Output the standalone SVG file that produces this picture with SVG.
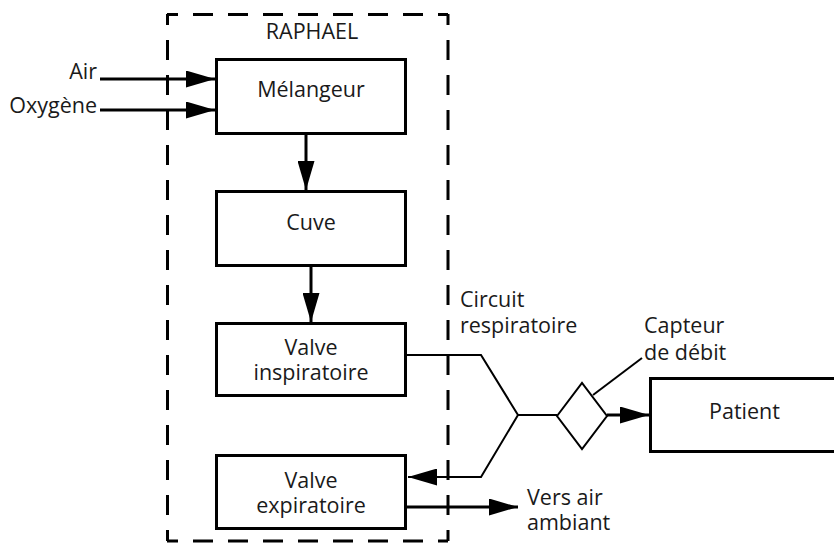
<svg xmlns="http://www.w3.org/2000/svg" width="834" height="544" viewBox="0 0 834 544">
  <style>
    .box { fill: #ffffff; stroke: #000000; stroke-width: 3; }
    .lbl { font-family: "Open Sans", "Liberation Sans", sans-serif; font-size: 21.5px; fill: #1a1a1a; }
    .mid { text-anchor: middle; }
    .end { text-anchor: end; }
    .arrow { fill: none; stroke: #000000; stroke-width: 3; }
    .thin { fill: none; stroke: #000000; stroke-width: 2; stroke-linejoin: miter; }
    .dash { fill: none; stroke: #000000; stroke-width: 3; stroke-dasharray: 20 15; stroke-dashoffset: 9; }
  </style>
  <defs>
    <marker id="ah" markerUnits="userSpaceOnUse" markerWidth="30" markerHeight="17" refX="29" refY="8.5" orient="auto">
      <path d="M0,0 L29,8.5 L0,17 Z" fill="#000000"/>
    </marker>
  </defs>
  <rect width="834" height="544" fill="#ffffff"/>

  <g id="raphael">
    <line class="dash" x1="167" y1="14.5" x2="448" y2="14.5"/>
    <line class="dash" x1="167.5" y1="14" x2="167.5" y2="541"/>
    <line class="dash" x1="448" y1="14" x2="448" y2="541"/>
    <line class="dash" x1="167" y1="541" x2="448" y2="541"/>
    <text class="lbl mid" x="312" y="39">RAPHAEL</text>
  </g>

  <g id="connectors">
    <line class="arrow" x1="100" y1="79" x2="215" y2="79" marker-end="url(#ah)"/>
    <line class="arrow" x1="100" y1="110" x2="215" y2="110" marker-end="url(#ah)"/>
    <line class="arrow" x1="306" y1="135" x2="306" y2="190" marker-end="url(#ah)"/>
    <line class="arrow" x1="311" y1="267" x2="311" y2="322" marker-end="url(#ah)"/>
    <path class="thin" d="M406,355 H481 L518,415 H557"/>
    <path class="thin" d="M518,415 L481,477 H408" marker-end="url(#ah)"/>
    <line class="arrow" x1="407" y1="507" x2="518" y2="507" marker-end="url(#ah)"/>
    <line class="arrow" x1="607" y1="415" x2="649" y2="415" marker-end="url(#ah)"/>
    <line class="thin" x1="593" y1="395" x2="642" y2="358"/>
  </g>

  <g id="air">
    <text class="lbl end" x="97" y="79">Air</text>
  </g>
  <g id="oxygene">
    <text class="lbl end" x="97" y="113">Oxygène</text>
  </g>

  <g id="melangeur">
    <rect class="box" x="216.5" y="59.5" width="189" height="74"/>
    <text class="lbl mid" x="311" y="97">Mélangeur</text>
  </g>

  <g id="cuve">
    <rect class="box" x="216.5" y="191.5" width="189" height="74"/>
    <text class="lbl mid" x="311" y="230">Cuve</text>
  </g>

  <g id="valve-inspiratoire">
    <rect class="box" x="216.5" y="323.5" width="189" height="72"/>
    <text class="lbl mid" x="311" y="355">Valve</text>
    <text class="lbl mid" x="311" y="380">inspiratoire</text>
  </g>

  <g id="valve-expiratoire">
    <rect class="box" x="216.5" y="455.5" width="189" height="73"/>
    <text class="lbl mid" x="311" y="488">Valve</text>
    <text class="lbl mid" x="311" y="513">expiratoire</text>
  </g>

  <g id="circuit-respiratoire">
    <text class="lbl" x="460" y="307">Circuit</text>
    <text class="lbl" x="460" y="333">respiratoire</text>
  </g>

  <g id="capteur-de-debit">
    <path class="thin" d="M557,416 L582,383 L607,416 L582,449 Z" fill="#ffffff"/>
    <text class="lbl" x="644" y="333">Capteur</text>
    <text class="lbl" x="644" y="360">de débit</text>
  </g>

  <g id="patient">
    <rect class="box" x="650.5" y="378.5" width="190" height="73"/>
    <text class="lbl mid" x="744.5" y="419">Patient</text>
  </g>

  <g id="vers-air-ambiant">
    <text class="lbl" x="527" y="505">Vers air</text>
    <text class="lbl" x="527" y="530">ambiant</text>
  </g>
</svg>
